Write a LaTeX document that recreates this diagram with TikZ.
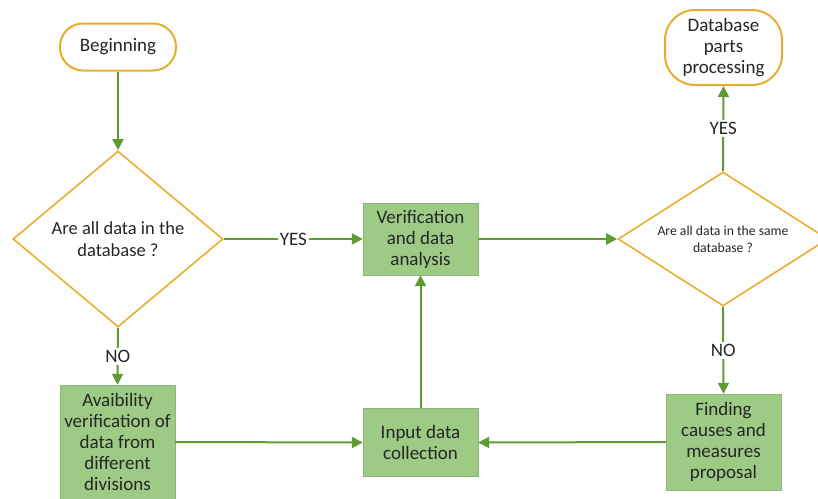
\documentclass[tikz,border=0pt]{standalone}
\usepackage{fontspec}
\setmainfont{Carlito}
\usetikzlibrary{shapes.geometric,arrows.meta}
\definecolor{gold}{HTML}{E9AD2E}
\definecolor{arrowgreen}{HTML}{5E9C32}
\definecolor{boxgreen}{HTML}{9DCA85}
\tikzset{
  term/.style={draw=gold, line width=2pt, fill=white, rounded corners=#1, align=center,
     inner sep=0pt, font=\fontsize{19}{21}\selectfont, text=black!85},
  decision/.style={draw=gold, line width=1.6pt, diamond, inner sep=0pt, align=center,
     text=black!85},
  procbox/.style={fill=boxgreen, draw=boxgreen!90!black, line width=0.4pt, align=center, inner sep=0pt,
     font=\fontsize{19}{21}\selectfont, text=black!85},
  flow/.style={draw=arrowgreen, line width=2pt, -{Triangle[length=11pt,width=11pt]}},
  lbl/.style={fill=white, inner sep=2pt, font=\fontsize{19}{21}\selectfont, text=black!85}
}
\begin{document}
\begin{tikzpicture}[x=1pt,y=-1pt]
\useasboundingbox (0,0) rectangle (818,498);
\clip (0,0) rectangle (818,498);
\node[term=23pt, minimum width=116pt, minimum height=47pt] (begin) at (118,47) {Beginning};
\node[decision, minimum width=210pt, minimum height=176pt, shape aspect=1.19,
      font=\fontsize{18.5}{22}\selectfont] (d1) at (118,239) {Are all data in the\\database ?};
\node[procbox, minimum width=115pt, minimum height=72pt] (verif) at (420.5,239) {Verification\\and data\\analysis};
\node[decision, minimum width=210pt, minimum height=134pt, shape aspect=1.57,
      font=\fontsize{13.7}{17}\selectfont] (d2) at (723,239) {Are all data in the same\\database ?};
\node[term=30pt, minimum width=117pt, minimum height=75pt] (dbp) at (723.5,47.5) {Database\\parts\\processing};
\node[procbox, minimum width=115pt, minimum height=96pt] (find) at (723.5,442) {Finding\\causes and\\measures\\proposal};
\node[procbox, minimum width=115pt, minimum height=68pt] (input) at (420.5,442.5) {Input data\\collection};
\node[procbox, minimum width=115pt, minimum height=114pt] (avail) at (117.5,442) {Avaibility\\verification of\\data from\\different\\divisions};

\draw[flow] (begin) -- (d1.north);
\draw[flow] (d1.east) -- node[lbl, pos=0.5] (yes1) {YES} (verif.west);
\draw[flow] (verif.east) -- (d2.west);
\draw[flow] (d2.north) -- node[lbl, pos=0.5] (yes2) {YES} (dbp.south);
\draw[flow] (d2.south) -- node[lbl, pos=0.5] (no2) {NO} (find.north);
\draw[flow] (d1.south) -- node[lbl, pos=0.5] (no1) {NO} (avail.north);
\draw[flow] (find.west) -- (input.east);
\draw[flow] (avail.east) -- (input.west);
\draw[flow] (input.north) -- (verif.south);
\end{tikzpicture}
\end{document}
